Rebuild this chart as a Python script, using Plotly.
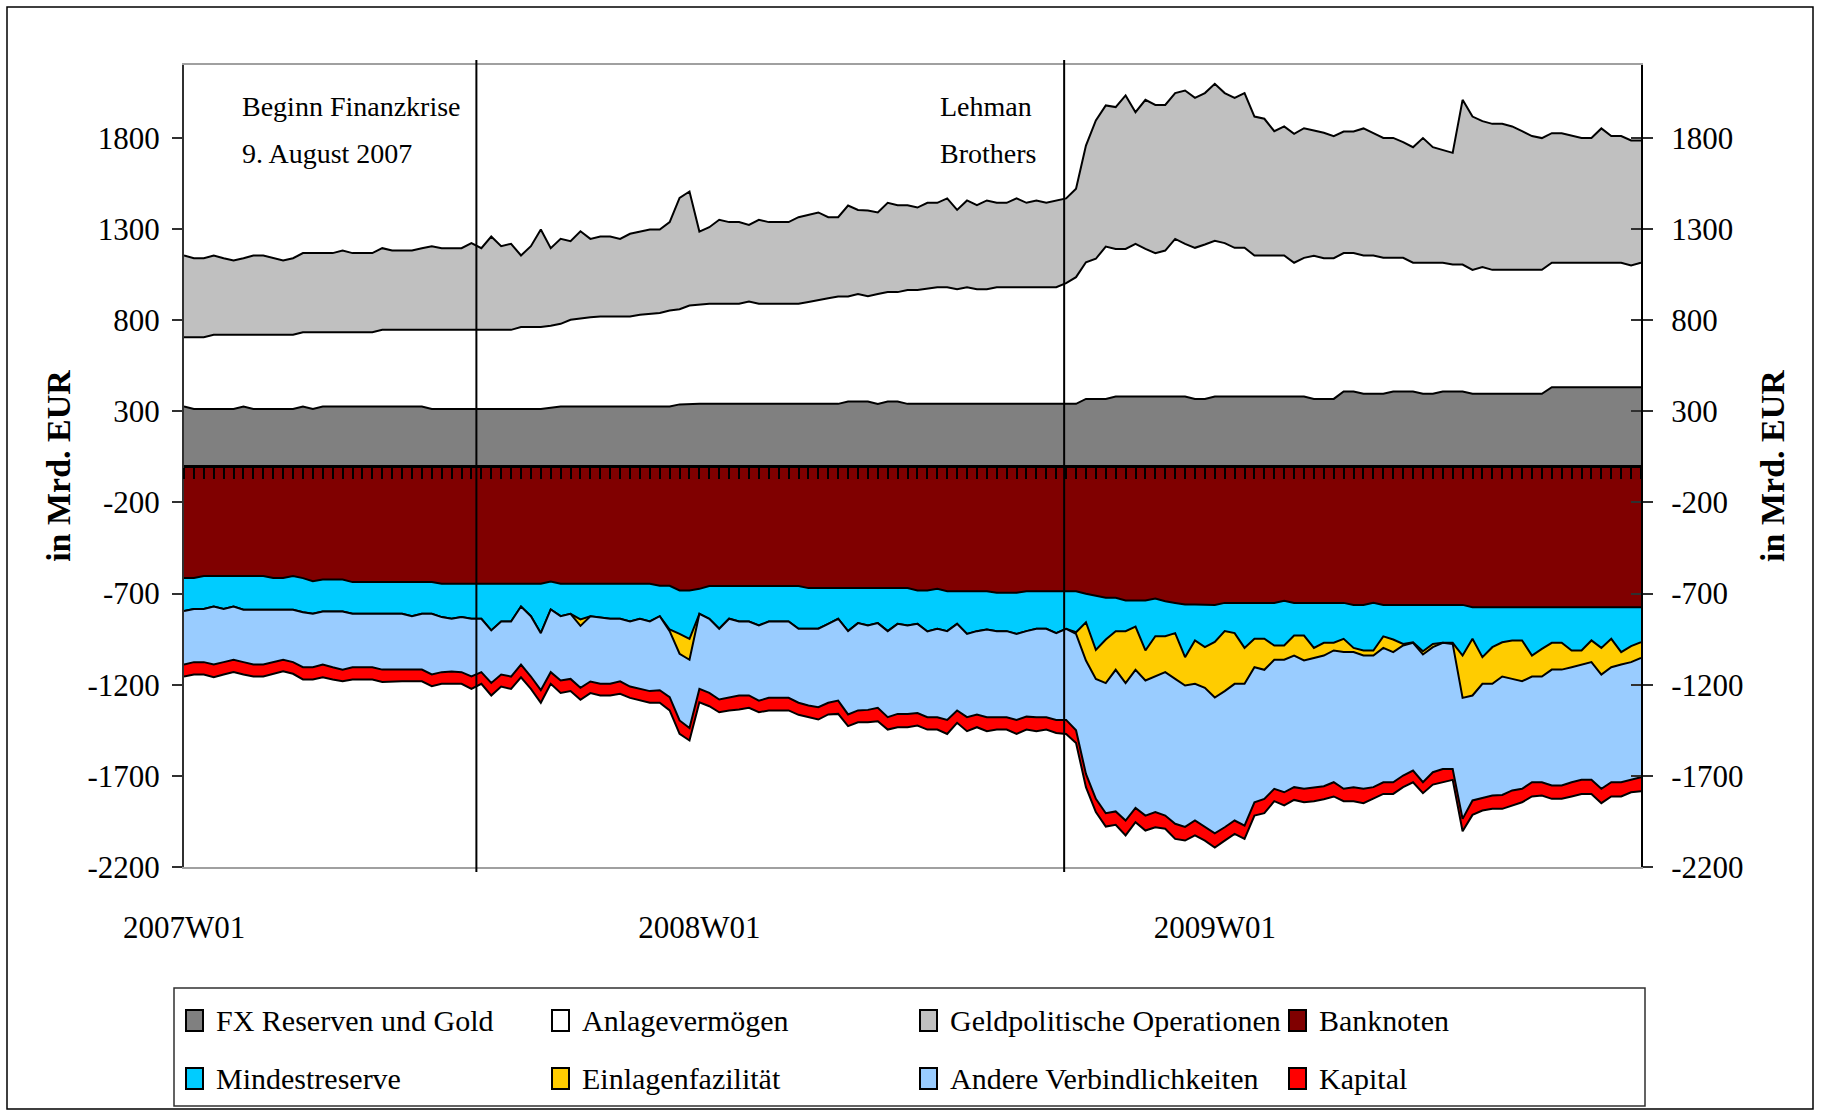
import plotly.graph_objects as go

# ---------------------------------------------------------------------------
# Weekly Eurosystem balance sheet items, billions of EUR (2007W01 .. 2009W44)
# ---------------------------------------------------------------------------
weeks = list(range(148))
x_tick_pos = [0, 52, 104]
x_tick_text = ["2007W01", "2008W01", "2009W01"]
y_ticks = [-2200, -1700, -1200, -700, -200, 300, 800, 1300, 1800]
y_tick_text = [str(v) for v in y_ticks]

# Assets (stacked upwards)
fx_gold = [
    326, 313, 313, 313, 313, 313, 326, 313, 313, 313,
    313, 313, 326, 313, 326, 326, 326, 326, 326, 326,
    326, 326, 326, 326, 326, 313, 313, 313, 313, 313,
    313, 313, 313, 313, 313, 313, 313, 320, 326, 326,
    326, 326, 326, 326, 326, 326, 326, 326, 326, 326,
    338, 341, 341, 341, 341, 341, 341, 341, 341, 341,
    341, 341, 341, 341, 341, 341, 341, 354, 354, 354,
    341, 354, 354, 341, 341, 341, 341, 341, 341, 341,
    341, 341, 341, 341, 341, 341, 341, 341, 341, 341,
    341, 368, 368, 368, 381, 381, 381, 381, 381, 381,
    381, 381, 368, 368, 381, 381, 381, 381, 381, 381,
    381, 381, 381, 381, 368, 368, 368, 409, 409, 396,
    396, 396, 409, 409, 409, 396, 396, 409, 409, 409,
    396, 396, 396, 396, 396, 396, 396, 396, 432, 432,
    432, 432, 432, 432, 432, 432, 432, 432,
]
anlage = [
    381, 394, 394, 407, 407, 407, 394, 407, 407, 407,
    407, 407, 408, 421, 408, 408, 408, 408, 408, 408,
    421, 421, 421, 421, 421, 434, 434, 434, 434, 434,
    434, 434, 434, 434, 449, 449, 449, 450, 454, 476,
    484, 490, 494, 494, 494, 494, 504, 509, 514, 527,
    522, 539, 544, 549, 549, 549, 549, 561, 549, 549,
    549, 549, 549, 559, 571, 579, 589, 576, 590, 578,
    603, 600, 600, 625, 625, 634, 640, 640, 629, 640,
    629, 629, 640, 640, 640, 640, 640, 640, 640, 662,
    695, 750, 769, 836, 810, 810, 838, 810, 787, 801,
    865, 838, 829, 847, 854, 842, 816, 816, 774, 774,
    774, 774, 734, 761, 785, 772, 772, 759, 759, 759,
    759, 746, 733, 733, 706, 719, 719, 706, 696, 696,
    680, 695, 680, 680, 680, 680, 680, 680, 683, 683,
    683, 683, 683, 683, 683, 683, 668, 683,
]
geldpol = [
    448, 433, 433, 435, 420, 407, 420, 435, 435, 420,
    407, 420, 434, 434, 434, 434, 448, 434, 434, 434,
    448, 435, 435, 435, 448, 459, 448, 448, 448, 476,
    448, 512, 459, 472, 393, 444, 535, 425, 466, 431,
    478, 430, 439, 439, 426, 454, 456, 462, 457, 485,
    611, 626, 401, 420, 461, 448, 448, 421, 461, 448,
    448, 448, 475, 478, 479, 445, 435, 499, 461, 470,
    447, 490, 477, 465, 452, 469, 463, 487, 435, 476,
    461, 487, 463, 463, 487, 463, 476, 463, 476, 465,
    485, 640, 759, 774, 778, 842, 722, 818, 813, 799,
    800, 841, 823, 831, 862, 823, 823, 849, 762, 750,
    682, 708, 707, 711, 688, 688, 670, 667, 667, 697,
    671, 658, 658, 635, 634, 684, 634, 620, 613, 904,
    841, 801, 801, 801, 787, 761, 734, 723, 711, 711,
    698, 685, 685, 737, 695, 695, 686, 671,
]

# Liabilities (stacked downwards)
banknoten = [
    -615, -615, -604, -604, -604, -604, -604, -604, -604, -615,
    -615, -604, -615, -632, -623, -623, -623, -637, -637, -637,
    -637, -637, -637, -637, -637, -637, -646, -646, -646, -646,
    -646, -646, -646, -646, -646, -646, -646, -634, -646, -646,
    -646, -646, -646, -646, -646, -646, -646, -646, -657, -657,
    -683, -683, -674, -659, -659, -659, -659, -659, -659, -659,
    -659, -659, -659, -670, -670, -670, -670, -670, -670, -670,
    -670, -670, -670, -670, -683, -683, -674, -687, -687, -687,
    -687, -687, -696, -696, -696, -687, -687, -687, -687, -687,
    -687, -701, -714, -723, -723, -738, -738, -738, -727, -742,
    -751, -760, -760, -760, -762, -751, -751, -751, -751, -751,
    -751, -740, -751, -751, -751, -751, -751, -751, -762, -762,
    -751, -762, -762, -762, -762, -762, -762, -762, -762, -762,
    -775, -775, -775, -775, -775, -775, -775, -775, -775, -775,
    -775, -775, -775, -775, -775, -775, -775, -775,
]
mindestreserve = [
    -181, -169, -180, -167, -180, -167, -185, -185, -185, -174,
    -174, -185, -187, -179, -175, -175, -175, -174, -174, -174,
    -174, -174, -174, -187, -174, -174, -183, -192, -183, -192,
    -192, -256, -207, -207, -125, -178, -271, -153, -178, -165,
    -196, -178, -183, -192, -192, -207, -192, -207, -167, -240,
    -238, -265, -137, -179, -234, -179, -194, -194, -216, -194,
    -194, -194, -234, -223, -223, -196, -168, -236, -192, -205,
    -192, -236, -196, -205, -183, -225, -219, -219, -179, -234,
    -219, -210, -210, -210, -225, -219, -206, -206, -230, -206,
    -225, -156, -295, -229, -183, -168, -143, -274, -207, -192,
    -166, -289, -197, -234, -203, -155, -166, -247, -197, -197,
    -234, -245, -179, -179, -247, -219, -219, -197, -236, -250,
    -261, -173, -190, -214, -205, -254, -214, -208, -208, -278,
    -173, -274, -219, -192, -182, -182, -265, -228, -195, -195,
    -237, -237, -182, -223, -173, -246, -213, -192,
]
einlagen = [
    0, 0, 0, 0, 0, 0, 0, 0, 0, 0,
    0, 0, 0, 0, 0, 0, 0, 0, 0, 0,
    0, 0, 0, 0, 0, 0, 0, 0, 0, 0,
    0, 0, 0, 0, 0, 0, 0, 0, 0, 0,
    -35, 0, 0, 0, 0, 0, 0, 0, 0, -9,
    -109, -115, 0, 0, 0, 0, 0, 0, 0, 0,
    0, 0, 0, 0, 0, 0, 0, 0, 0, 0,
    0, 0, 0, 0, 0, 0, 0, 0, 0, 0,
    0, 0, 0, 0, 0, 0, 0, 0, 0, 0,
    -9, -210, -159, -239, -212, -285, -237, -165, -221, -197,
    -251, -155, -238, -223, -305, -329, -278, -197, -156, -170,
    -78, -78, -110, -137, -55, -70, -42, -73, -23, -28,
    -28, -63, -69, -9, -3, -18, -18, 0, -6, -232,
    -311, -146, -201, -188, -211, -224, -115, -152, -147, -147,
    -92, -77, -119, -146, -156, -68, -88, -86,
]
andere = [
    -293, -292, -292, -318, -292, -292, -287, -300, -300, -287,
    -274, -287, -302, -293, -291, -306, -319, -293, -293, -293,
    -306, -306, -306, -293, -306, -333, -302, -290, -302, -317,
    -293, -288, -291, -302, -318, -331, -313, -344, -353, -357,
    -340, -358, -366, -357, -343, -357, -385, -382, -406, -362,
    -366, -374, -412, -407, -388, -430, -406, -406, -412, -419,
    -419, -419, -406, -421, -430, -433, -449, -457, -479, -463,
    -465, -472, -494, -485, -489, -470, -485, -487, -475, -457,
    -457, -481, -472, -472, -472, -469, -485, -485, -476, -500,
    -529, -622, -658, -714, -777, -754, -758, -741, -744, -787,
    -795, -776, -750, -765, -745, -747, -750, -778, -741, -708,
    -708, -727, -722, -704, -709, -717, -723, -750, -741, -731,
    -722, -737, -714, -713, -701, -701, -686, -692, -686, -664,
    -576, -626, -613, -650, -612, -590, -580, -580, -636, -636,
    -631, -633, -646, -627, -631, -646, -646, -654,
]
kapital = [
    -66, -68, -68, -70, -68, -68, -68, -66, -66, -64,
    -63, -64, -67, -67, -70, -67, -64, -67, -67, -67,
    -68, -64, -64, -64, -64, -64, -64, -67, -64, -68,
    -64, -69, -66, -68, -70, -68, -69, -64, -68, -67,
    -66, -64, -64, -64, -69, -62, -64, -64, -69, -73,
    -74, -69, -73, -73, -70, -73, -77, -68, -64, -69,
    -69, -69, -66, -64, -68, -64, -73, -64, -65, -68,
    -73, -68, -73, -73, -69, -68, -68, -77, -68, -77,
    -70, -77, -68, -68, -77, -71, -77, -68, -72, -77,
    -70, -73, -73, -73, -73, -82, -78, -82, -83, -72,
    -83, -75, -82, -73, -78, -73, -73, -73, -73, -79,
    -68, -72, -70, -74, -77, -71, -78, -68, -77, -79,
    -64, -64, -64, -64, -64, -60, -68, -73, -60, -68,
    -79, -69, -73, -76, -83, -74, -78, -73, -73, -73,
    -78, -77, -77, -79, -78, -78, -68, -77,
]

# Event markers (position on the week axis) and their labels
events = [
    (29.5, ["Beginn Finanzkrise", "9. August 2007"], 240),
    (88.8, ["Lehman", "Brothers"], 938),
]

# name, values, fill colour, stack side
series = [
    ("FX Reserven und Gold", fx_gold, "#808080", "aktiva"),
    ("Anlagevermögen", anlage, "#ffffff", "aktiva"),
    ("Geldpolitische Operationen", geldpol, "#c0c0c0", "aktiva"),
    ("Banknoten", banknoten, "#800000", "passiva"),
    ("Mindestreserve", mindestreserve, "#00ccff", "passiva"),
    ("Einlagenfazilität", einlagen, "#ffcc00", "passiva"),
    ("Andere Verbindlichkeiten", andere, "#99ccff", "passiva"),
    ("Kapital", kapital, "#ff0000", "passiva"),
]

# ---------------------------------------------------------------------------
W, H = 1821, 1112
ML, MR, MT, MB = 184, 180, 65, 245
PW, PH = W - ML - MR, H - MT - MB
FONT = "Liberation Serif, Times New Roman, serif"
Y_RANGE = [-2200, 2200]


def px_x(px):
    return (px - ML) / PW


def px_y(py):
    return (H - MB - py) / PH


fig = go.Figure()
# assets sit on the left value axis, liabilities on the right one
# (same scale); the liabilities' week axis is the one drawn along zero
for name, vals, color, group in series:
    on_left = group == "aktiva"
    fig.add_trace(go.Scatter(
        x=weeks, y=vals, name=name, mode="lines", stackgroup=group,
        xaxis="x" if on_left else "x2", yaxis="y" if on_left else "y2",
        line=dict(color="black", width=2), fillcolor=color,
        showlegend=False, hoverinfo="skip",
    ))

axis_common = dict(showgrid=False, zeroline=False, automargin=False)

fig.update_layout(
    template="none",
    width=W, height=H,
    margin=dict(l=ML, r=MR, t=MT, b=MB, autoexpand=False),
    paper_bgcolor="white", plot_bgcolor="white",
    font=dict(family=FONT, color="black"),
    xaxis=dict(
        range=[0, len(weeks) - 1], tickmode="array",
        tickvals=x_tick_pos, ticktext=x_tick_text, ticks="",
        tickfont=dict(size=31), ticklabelstandoff=32,
        showline=True, linecolor="#a0a0a0", linewidth=2, mirror=True,
        **axis_common,
    ),
    # category ticks along the zero line
    xaxis2=dict(
        overlaying="x", anchor="free", position=0.5, side="bottom",
        range=[0, len(weeks) - 1], tickmode="linear", tick0=0, dtick=1,
        ticks="outside", ticklen=11, tickwidth=1.5, tickcolor="black",
        showticklabels=False, showline=True, linecolor="black", linewidth=2.5,
        **axis_common,
    ),
    yaxis=dict(
        range=Y_RANGE, tickmode="array",
        tickvals=y_ticks, ticktext=y_tick_text,
        ticks="outside", ticklen=10, tickwidth=1.5, tickcolor="#303030",
        tickfont=dict(size=31), ticklabelstandoff=6,
        showline=True, linecolor="#303030", linewidth=2, mirror="ticks",
        title=dict(text="in Mrd. EUR", standoff=7,
                   font=dict(size=34, weight="bold")),
        **axis_common,
    ),
    yaxis2=dict(
        overlaying="y", side="right", anchor="x",
        range=Y_RANGE, tickmode="array",
        tickvals=y_ticks, ticktext=y_tick_text,
        ticks="inside", ticklen=10, tickwidth=1.5, tickcolor="#303030",
        tickfont=dict(size=31), ticklabelstandoff=22,
        showline=True, linecolor="black", linewidth=2,
        title=dict(text="in Mrd. EUR", standoff=18,
                   font=dict(size=34, weight="bold")),
        **axis_common,
    ),
)

shapes = []
annotations = []

# vertical event lines and their captions
for pos, lines, left_px in events:
    shapes.append(dict(type="line", xref="x", yref="paper",
                       x0=pos, x1=pos, y0=px_y(872), y1=px_y(60),
                       line=dict(color="black", width=2), layer="above"))
    for k, txt in enumerate(lines):
        annotations.append(dict(xref="paper", yref="paper",
                                x=px_x(left_px), y=px_y(107 + 46 * k),
                                xanchor="left", yanchor="middle", showarrow=False,
                                text=txt, font=dict(size=28)))

# outer frame
shapes.append(dict(type="rect", xref="paper", yref="paper",
                   x0=px_x(7), x1=px_x(1813), y0=px_y(1109), y1=px_y(7),
                   line=dict(color="black", width=1.5), layer="below"))

# legend box with two rows of four entries
shapes.append(dict(type="rect", xref="paper", yref="paper",
                   x0=px_x(174), x1=px_x(1645), y0=px_y(1106), y1=px_y(988),
                   line=dict(color="#303030", width=1.5), layer="below"))
col_left = [186, 552, 920, 1289]
row_mid = [1020, 1078]
for idx, (name, _vals, color, _group) in enumerate(series):
    r, c = divmod(idx, 4)
    sx = col_left[c]
    sy = row_mid[r]
    shapes.append(dict(type="rect", xref="paper", yref="paper",
                       x0=px_x(sx), x1=px_x(sx + 17),
                       y0=px_y(sy + 11), y1=px_y(sy - 10),
                       fillcolor=color, line=dict(color="black", width=2)))
    annotations.append(dict(xref="paper", yref="paper",
                            x=px_x(sx + 28), y=px_y(sy),
                            xanchor="left", yanchor="middle", showarrow=False,
                            text=name, font=dict(size=30)))

fig.update_layout(shapes=shapes, annotations=annotations)
fig.write_html("out.html")
